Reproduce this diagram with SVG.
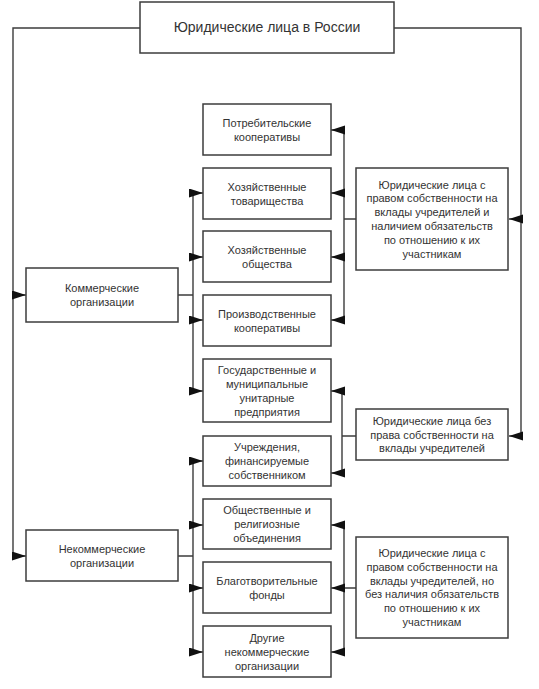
<svg xmlns="http://www.w3.org/2000/svg" width="539" height="689" viewBox="0 0 539 689">
<defs>
<style>
.box{fill:#fff;stroke:#3c3c3c;stroke-width:1.5}
.ln{fill:none;stroke:#3c3c3c;stroke-width:1.4}
.ar{fill:none;stroke:#3c3c3c;stroke-width:1.4;marker-end:url(#ah)}
text{font-family:"Liberation Sans",Arial,sans-serif;font-size:11px;fill:#333;text-anchor:middle}
.title{font-size:14px}
</style>
<marker id="ah" markerUnits="userSpaceOnUse" markerWidth="15" markerHeight="10" refX="14" refY="4.5" orient="auto">
<path d="M0,0 L14,4.5 L0,9 z" fill="#111"/>
</marker>
</defs>
<rect width="539" height="689" fill="#fff"/>
<g id="connectors">
<path class="ln" d="M140,28 H13 V556"/>
<path class="ar" d="M13,295 H26"/>
<path class="ar" d="M13,556 H26"/>
<path class="ln" d="M394,28 H521 V436"/>
<path class="ar" d="M521,219 H509"/>
<path class="ar" d="M521,436 H509"/>
<path class="ln" d="M178,295 H193 M193,193 V391"/>
<path class="ar" d="M193,193 H203"/>
<path class="ar" d="M193,257 H203"/>
<path class="ar" d="M193,320 H203"/>
<path class="ar" d="M193,391 H203"/>
<path class="ln" d="M178,556 H193 M193,461 V652"/>
<path class="ar" d="M193,461 H203"/>
<path class="ar" d="M193,525 H203"/>
<path class="ar" d="M193,588 H203"/>
<path class="ar" d="M193,652 H203"/>
<path class="ln" d="M356,219 H344 M344,130 V320"/>
<path class="ar" d="M344,130 H331"/>
<path class="ar" d="M344,193 H331"/>
<path class="ar" d="M344,257 H331"/>
<path class="ar" d="M344,320 H331"/>
<path class="ln" d="M356,436 H342 M342,391 V473"/>
<path class="ar" d="M342,391 H331"/>
<path class="ar" d="M342,473 H331"/>
<path class="ln" d="M356,588 H344 M344,525 V652"/>
<path class="ar" d="M344,525 H331"/>
<path class="ar" d="M344,588 H331"/>
<path class="ar" d="M344,652 H331"/>
</g>
<g id="root"><rect class="box" x="140" y="2" width="254" height="51"/><text class="title" x="267" y="32">Юридические лица в России</text></g>
<g id="commercial"><rect class="box" x="26" y="268" width="152" height="54"/><text x="102" y="292">Коммерческие</text><text x="102" y="306">организации</text></g>
<g id="noncommercial"><rect class="box" x="26" y="530" width="152" height="51"/><text x="102" y="553">Некоммерческие</text><text x="102" y="567">организации</text></g>
<g id="n1"><rect class="box" x="203" y="104" width="128" height="51"/><text x="267" y="126.5">Потребительские</text><text x="267" y="140.5">кооперативы</text></g>
<g id="n2"><rect class="box" x="203" y="168" width="128" height="51"/><text x="267" y="190.5">Хозяйственные</text><text x="267" y="204.5">товарищества</text></g>
<g id="n3"><rect class="box" x="203" y="231" width="128" height="51"/><text x="267" y="253.5">Хозяйственные</text><text x="267" y="267.5">общества</text></g>
<g id="n4"><rect class="box" x="203" y="295" width="128" height="51"/><text x="267" y="317.5">Производственные</text><text x="267" y="331.5">кооперативы</text></g>
<g id="n5"><rect class="box" x="203" y="359" width="128" height="63"/><text x="267" y="373.5">Государственные и</text><text x="267" y="387.5">муниципальные</text><text x="267" y="401.5">унитарные</text><text x="267" y="415.5">предприятия</text></g>
<g id="n6"><rect class="box" x="203" y="436" width="128" height="50"/><text x="267" y="451">Учреждения,</text><text x="267" y="465">финансируемые</text><text x="267" y="479">собственником</text></g>
<g id="n7"><rect class="box" x="203" y="499" width="128" height="50"/><text x="267" y="514">Общественные и</text><text x="267" y="528">религиозные</text><text x="267" y="542">объединения</text></g>
<g id="n8"><rect class="box" x="203" y="562" width="128" height="51"/><text x="267" y="584.5">Благотворительные</text><text x="267" y="598.5">фонды</text></g>
<g id="n9"><rect class="box" x="203" y="626" width="128" height="51"/><text x="267" y="641.5">Другие</text><text x="267" y="655.5">некоммерческие</text><text x="267" y="669.5">организации</text></g>
<g id="r1"><rect class="box" x="356" y="168" width="152" height="102"/><text x="432" y="188.5">Юридические лица с</text><text x="432" y="202.3">правом собственности на</text><text x="432" y="216.1">вклады учредителей и</text><text x="432" y="229.9">наличием обязательств</text><text x="432" y="243.7">по отношению к их</text><text x="432" y="257.5">участникам</text></g>
<g id="r2"><rect class="box" x="356" y="409" width="152" height="51"/><text x="432" y="424.7">Юридические лица без</text><text x="432" y="438.5">права собственности на</text><text x="432" y="452.3">вклады учредителей</text></g>
<g id="r3"><rect class="box" x="356" y="537" width="152" height="101"/><text x="432" y="557">Юридические лица с</text><text x="432" y="570.8">правом собственности на</text><text x="432" y="584.6">вклады учредителей, но</text><text x="432" y="598.4">без наличия обязательств</text><text x="432" y="612.2">по отношению к их</text><text x="432" y="626">участникам</text></g>
</svg>
